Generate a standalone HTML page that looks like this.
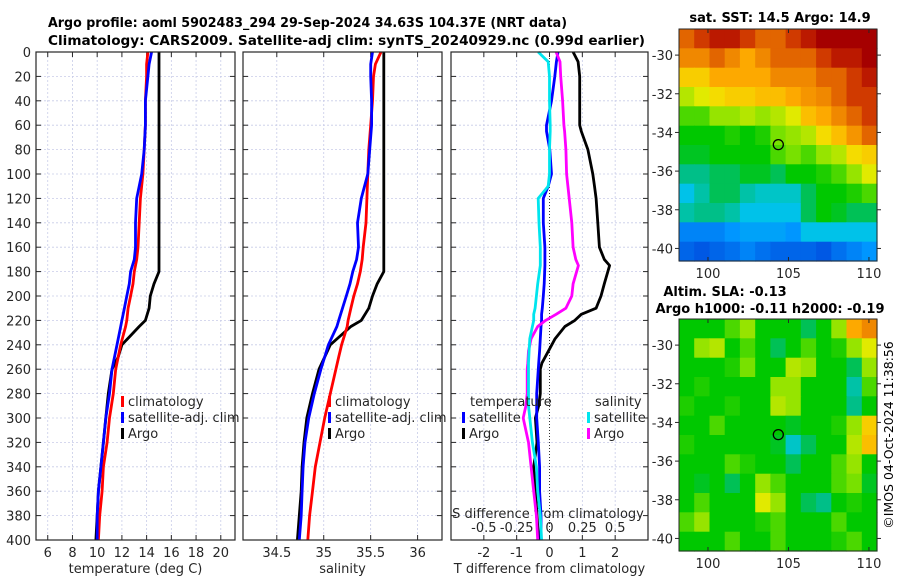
<!DOCTYPE html>
<html><head><meta charset="utf-8"><style>
body{margin:0;background:#fff;}
svg{display:block;font-family:"DejaVu Sans","Liberation Sans",sans-serif;}
</style></head><body>
<svg id="fig" width="900" height="580" viewBox="0 0 900 580" xmlns="http://www.w3.org/2000/svg">
<text x="48" y="27" font-size="13" font-weight="bold" textLength="519" lengthAdjust="spacingAndGlyphs">Argo profile: aoml 5902483_294 29-Sep-2024 34.63S 104.37E (NRT data)</text>
<text x="48" y="45" font-size="13" font-weight="bold" textLength="597" lengthAdjust="spacingAndGlyphs">Climatology: CARS2009. Satellite-adj clim: synTS_20240929.nc (0.99d earlier)</text>
<text x="780" y="22" font-size="13" font-weight="bold" text-anchor="middle">sat. SST: 14.5 Argo: 14.9</text>
<text x="725" y="296" font-size="13" font-weight="bold" text-anchor="middle">Altim. SLA: -0.13</text>
<text x="770" y="313" font-size="13" font-weight="bold" text-anchor="middle">Argo h1000: -0.11 h2000: -0.19</text>
<text transform="translate(893,435) rotate(-90)" font-size="12.5" text-anchor="middle">©IMOS 04-Oct-2024 11:38:56</text>
<g id="g"></g>
</svg>
<script>
// ---- profile data (depth in m) ----
const depthT = [0,10,20,40,60,80,100,120,140,160,170,180,190,200,210,220,225,240,250,260,280,300,320,340,360,380,400];
const tempArgo = [15.0,15.0,15.0,15.0,15.0,15.0,15.0,15.0,15.0,15.0,15.0,15.0,14.6,14.3,14.2,13.9,13.4,12.0,11.7,11.2,10.9,10.7,10.5,10.3,10.1,10.0,9.9];
const tempClim = [14.1,14.0,14.0,13.9,13.9,13.8,13.7,13.5,13.4,13.3,13.2,13.0,12.9,12.7,12.5,12.4,12.3,11.9,11.7,11.5,11.3,11.0,10.8,10.5,10.4,10.2,10.1];
const tempSat = [14.4,14.2,14.1,13.9,13.9,13.8,13.6,13.2,13.1,13.1,13.0,12.7,12.6,12.4,12.2,12.0,11.9,11.6,11.4,11.2,11.0,10.7,10.5,10.3,10.1,10.0,10.0];
const salArgo = [35.64,35.64,35.64,35.64,35.64,35.64,35.64,35.64,35.64,35.64,35.64,35.64,35.57,35.52,35.48,35.40,35.29,35.07,35.01,34.95,34.88,34.82,34.79,34.77,34.76,34.74,34.72];
const salClim = [35.61,35.55,35.53,35.52,35.50,35.48,35.47,35.46,35.45,35.42,35.41,35.39,35.36,35.32,35.29,35.26,35.25,35.19,35.16,35.13,35.07,35.01,34.96,34.91,34.88,34.85,34.83];
const salSat = [35.52,35.50,35.50,35.51,35.51,35.49,35.47,35.40,35.36,35.37,35.35,35.31,35.28,35.24,35.20,35.16,35.14,35.05,35.01,34.97,34.90,34.84,34.80,34.78,34.77,34.76,34.74];
// ---- difference data ----
const depthD = [0,8,20,40,60,65,80,100,110,120,140,160,170,175,190,200,210,215,220,225,235,245,255,260,280,290,300,320,340,360,380,400];
const dTArgo = [0.72,0.87,0.92,0.92,0.92,0.97,1.17,1.32,1.37,1.42,1.47,1.52,1.67,1.83,1.67,1.57,1.42,0.97,0.77,0.47,0.17,-0.03,-0.23,-0.28,-0.28,-0.33,-0.43,-0.38,-0.48,-0.43,-0.38,-0.33];
const dTSat = [0.26,0.21,0.16,0.06,-0.09,-0.09,0.01,0.06,-0.04,-0.19,-0.19,-0.14,-0.14,-0.14,-0.16,-0.19,-0.22,-0.24,-0.24,-0.26,-0.28,-0.3,-0.33,-0.34,-0.39,-0.39,-0.39,-0.34,-0.3,-0.3,-0.26,-0.26];
const dSArgo = [0.05,0.08,0.085,0.1,0.11,0.115,0.125,0.13,0.14,0.15,0.17,0.18,0.2,0.22,0.18,0.17,0.125,0.05,-0.03,-0.09,-0.14,-0.16,-0.165,-0.17,-0.17,-0.18,-0.2,-0.16,-0.14,-0.12,-0.1,-0.09];
const dSSat = [-0.086,-0.01,0,0,0.005,0.005,0,0,-0.01,-0.086,-0.08,-0.07,-0.07,-0.07,-0.09,-0.1,-0.11,-0.12,-0.12,-0.13,-0.15,-0.155,-0.16,-0.16,-0.16,-0.16,-0.15,-0.13,-0.1,-0.09,-0.07,-0.06];
// ---- tick labels ----
const depthTicks = [0,20,40,60,80,100,120,140,160,180,200,220,240,260,280,300,320,340,360,380,400];
const tempTicks = [6,8,10,12,14,16,18,20];
const salTicks = [34.5,35,35.5,36];
const tdTicks = [-2,-1,0,1,2];
const sdTicks = [-0.5,-0.25,0,0.25,0.5];
const lonTicks = [100,105,110];
const latTicks = [-30,-32,-34,-36,-38,-40];
// ---- maps (colormap fraction, rows north->south, 1 deg cells) ----
const sstGrid = [
[0.85,0.9,0.95,0.95,0.9,0.85,0.85,0.9,0.95,1,1,1,1],
[0.8,0.8,0.85,0.8,0.75,0.8,0.85,0.85,0.85,0.9,0.95,0.95,1],
[0.7,0.7,0.75,0.75,0.75,0.75,0.8,0.8,0.8,0.85,0.85,0.9,0.95],
[0.62,0.65,0.68,0.7,0.7,0.72,0.72,0.75,0.78,0.8,0.85,0.9,0.9],
[0.55,0.55,0.6,0.6,0.62,0.6,0.62,0.65,0.72,0.75,0.8,0.85,0.9],
[0.5,0.5,0.5,0.52,0.5,0.52,0.58,0.6,0.62,0.68,0.72,0.78,0.85],
[0.48,0.48,0.5,0.5,0.5,0.5,0.55,0.58,0.55,0.6,0.62,0.68,0.7],
[0.42,0.42,0.45,0.45,0.48,0.48,0.45,0.5,0.5,0.52,0.55,0.6,0.65],
[0.35,0.4,0.45,0.45,0.4,0.38,0.38,0.38,0.45,0.5,0.5,0.52,0.55],
[0.4,0.42,0.42,0.4,0.35,0.35,0.35,0.35,0.45,0.5,0.48,0.45,0.45],
[0.25,0.25,0.25,0.28,0.3,0.3,0.3,0.28,0.35,0.35,0.35,0.35,0.35],
[0.2,0.18,0.2,0.22,0.25,0.22,0.2,0.2,0.2,0.18,0.22,0.25,0.28]];
const slaGrid = [
[0.5,0.5,0.5,0.55,0.6,0.5,0.5,0.5,0.45,0.5,0.6,0.75,0.8],
[0.5,0.6,0.62,0.5,0.55,0.5,0.45,0.5,0.55,0.5,0.52,0.6,0.65],
[0.5,0.5,0.5,0.52,0.58,0.5,0.5,0.62,0.6,0.5,0.5,0.45,0.6],
[0.5,0.52,0.5,0.5,0.5,0.5,0.6,0.6,0.5,0.5,0.5,0.4,0.55],
[0.52,0.5,0.5,0.52,0.5,0.5,0.62,0.6,0.5,0.5,0.5,0.42,0.5],
[0.5,0.5,0.55,0.5,0.5,0.5,0.5,0.48,0.5,0.5,0.52,0.6,0.7],
[0.52,0.5,0.5,0.5,0.5,0.5,0.48,0.38,0.45,0.5,0.5,0.62,0.72],
[0.5,0.5,0.5,0.55,0.52,0.5,0.5,0.45,0.5,0.5,0.55,0.6,0.5],
[0.5,0.48,0.5,0.45,0.5,0.6,0.55,0.5,0.5,0.5,0.55,0.58,0.48],
[0.5,0.55,0.5,0.5,0.5,0.65,0.6,0.5,0.45,0.42,0.5,0.52,0.5],
[0.55,0.6,0.5,0.5,0.5,0.52,0.55,0.5,0.5,0.5,0.55,0.5,0.5],
[0.5,0.5,0.5,0.55,0.5,0.5,0.55,0.5,0.5,0.5,0.52,0.55,0.5]];
const argoLon = 104.37, argoLat = -34.63;

const NS="http://www.w3.org/2000/svg";
const G=document.getElementById('g');
function el(tag,attrs,parent){const e=document.createElementNS(NS,tag);for(const k in attrs)e.setAttribute(k,attrs[k]);(parent||G).appendChild(e);return e;}
function txt(s,x,y,attrs){const t=el('text',Object.assign({x:x,y:y,'font-size':13,fill:'#262626'},attrs||{}));t.textContent=s;return t;}

const PT=52, PB=540;
const yD = d => PT + d*(PB-PT)/400;
const panels = [
 {name:'temperature',x0:36,x1:235,vmin:5.05,vmax:21.15,ticks:tempTicks,label:'temperature (deg C)'},
 {name:'salinity',x0:243,x1:442,vmin:34.14,vmax:36.26,ticks:salTicks,label:'salinity'},
 {name:'difference',x0:451,x1:648,vmin:-3.0,vmax:3.0,ticks:tdTicks,label:'T difference from climatology'}];
panels.forEach(p=>{p.sx=v=>p.x0+(v-p.vmin)*(p.x1-p.x0)/(p.vmax-p.vmin);});

panels.forEach((p,i)=>{
  const grp=el('g',{});
  
  
  depthTicks.forEach(d=>{
    const l=el('line',{x1:p.x0,x2:p.x1,y1:yD(d),y2:yD(d),stroke:'#c8cce8','stroke-width':0.8,'stroke-dasharray':'2,2'},grp);
    
    
    el('line',{x1:p.x0,x2:p.x0+5,y1:yD(d),y2:yD(d),stroke:'#262626'},grp);
    el('line',{x1:p.x1-5,x2:p.x1,y1:yD(d),y2:yD(d),stroke:'#262626'},grp);
  });
  p.ticks.forEach(v=>{
    const x=p.sx(v);
    el('line',{x1:x,x2:x,y1:PT,y2:PB,stroke:(i==2&&v==0)?'#333':'#c8cce8','stroke-width':(i==2&&v==0)?1:0.8,'stroke-dasharray':(i==2&&v==0)?'1,2':'2,2'},grp);
    el('line',{x1:x,x2:x,y1:PT,y2:PT+5,stroke:'#262626'},grp);
    el('line',{x1:x,x2:x,y1:PB-5,y2:PB,stroke:'#262626'},grp);
    const t=txt(String(v),x,557,{'text-anchor':'middle'},grp);
    
    
  });
  const xl=txt(p.label,(p.x0+p.x1)/2,573,{'text-anchor':'middle'});
  
  
});
depthTicks.forEach(d=>{
  const t=txt(String(d),31,yD(d)+5,{'text-anchor':'end'});
  
  
});
const pd=panels[2];
sdTicks.forEach(v=>{
  const t=txt(String(v),pd.sx(v*4),532,{'text-anchor':'middle'});
  
  
});
const st=txt('S difference from climatology',548,518,{'text-anchor':'middle'});



function line(p,depths,vals,color,name,scale){
  const pts=depths.map((d,i)=>p.sx(vals[i]*(scale||1)).toFixed(1)+','+yD(d).toFixed(1)).join(' ');
  const l=el('polyline',{points:pts,fill:'none',stroke:color,'stroke-width':2.8,'stroke-linejoin':'round'});
  
  
}
line(panels[0],depthT,tempArgo,'#000','temp-argo-line');
line(panels[0],depthT,tempClim,'#ff0000','temp-climatology-line');
line(panels[0],depthT,tempSat,'#0000ff','temp-satellite-line');
line(panels[1],depthT,salArgo,'#000','sal-argo-line');
line(panels[1],depthT,salClim,'#ff0000','sal-climatology-line');
line(panels[1],depthT,salSat,'#0000ff','sal-satellite-line');
line(pd,depthD,dTArgo,'#000','tdiff-argo-line');
line(pd,depthD,dTSat,'#0000ff','tdiff-satellite-line');
line(pd,depthD,dSArgo,'#ff00ff','sdiff-argo-line',4);
line(pd,depthD,dSSat,'#00e5ee','sdiff-satellite-line',4);

panels.forEach(p=>{
  const r=el('rect',{x:p.x0,y:PT,width:p.x1-p.x0,height:PB-PT,fill:'none',stroke:'#262626','stroke-width':1.2});
  
  
});

function legend(x,y,items,name){
  items.forEach((it,i)=>{
    el('rect',{x:x,y:y+i*16-12,width:3,height:11,fill:it[1]});
    const t=txt(it[0],x+7,y+i*16-2);
    
    
  });
}
legend(121,408,[['climatology','#ff0000'],['satellite-adj. clim','#0000ff'],['Argo','#000']],'temp-legend');
legend(328,408,[['climatology','#ff0000'],['satellite-adj. clim','#0000ff'],['Argo','#000']],'sal-legend');
const lt=txt('temperature',470,406);
legend(462,424,[['satellite','#0000ff'],['Argo','#000']],'tdiff-legend');
const ls=txt('salinity',595,406);
legend(587,424,[['satellite','#00e5ee'],['Argo','#ff00ff']],'sdiff-legend');

// custom colormap resembling reference
const cmapStops=[[0,[0,0,150]],[0.15,[0,70,220]],[0.28,[0,150,255]],[0.36,[0,200,230]],[0.43,[0,190,120]],[0.5,[0,200,0]],[0.58,[120,225,0]],[0.66,[240,235,0]],[0.74,[255,175,0]],[0.84,[230,110,0]],[0.92,[200,40,0]],[1,[165,0,0]]];
function cmap(v){
  v=Math.max(0,Math.min(1,v));
  for(let i=1;i<cmapStops.length;i++){
    if(v<=cmapStops[i][0]){
      const a=cmapStops[i-1],b=cmapStops[i],t=(v-a[0])/(b[0]-a[0]);
      return 'rgb('+a[1].map((c,k)=>Math.round(c+(b[1][k]-c)*t)).join(',')+')';
    }
  }
  return 'rgb(165,0,0)';
}
function map(y0,y1,grid,name){
  const X0=679,X1=877,LON0=98.2,LON1=110.5;
  const sx=lon=>X0+(lon-LON0)*(X1-X0)/(LON1-LON0);
  const yTop=-28.65,yBot=-40.65;
  const sy=lat=>y0+(yTop-lat)*(y1-y0)/(yTop-yBot);
  const grp=el('g',{});
  
  
  const cols=grid[0].length;
  grid.forEach((row,ri)=>row.forEach((v,ci)=>{
    const lon=LON0+ci*(LON1-LON0)/cols, lonN=LON0+(ci+1)*(LON1-LON0)/cols;
    const c=el('rect',{x:sx(lon).toFixed(1),y:sy(yTop-ri).toFixed(1),width:(sx(lonN)-sx(lon)+0.6).toFixed(1),height:(sy(yTop-ri-1)-sy(yTop-ri)+0.6).toFixed(1),fill:cmap(v)},grp);
    
    
  }));
  el('rect',{x:X0,y:y0,width:X1-X0,height:y1-y0,fill:'none',stroke:'#262626','stroke-width':1},grp);
  lonTicks.forEach(l=>{
    el('line',{x1:sx(l),x2:sx(l),y1:y0,y2:y0+4,stroke:'#262626'},grp);
    el('line',{x1:sx(l),x2:sx(l),y1:y1-4,y2:y1,stroke:'#262626'},grp);
    const t=txt(String(l),sx(l),y1+17,{'text-anchor':'middle'});
    
    
  });
  latTicks.forEach(l=>{
    el('line',{x1:X1,x2:X1+4,y1:sy(l),y2:sy(l),stroke:'#262626'},grp);
    el('line',{x1:X0-4,x2:X0,y1:sy(l),y2:sy(l),stroke:'#262626'},grp);
    const t=txt(String(l),X0-6,sy(l)+5,{'text-anchor':'end'});
    
    
  });
  const m=el('circle',{cx:sx(argoLon),cy:sy(argoLat),r:5,fill:'none',stroke:'#000','stroke-width':1.3},grp);
  
  
}
map(29,261,sstGrid,'sst-map');
map(319,551,slaGrid,'sla-map');
</script>
</body></html>
